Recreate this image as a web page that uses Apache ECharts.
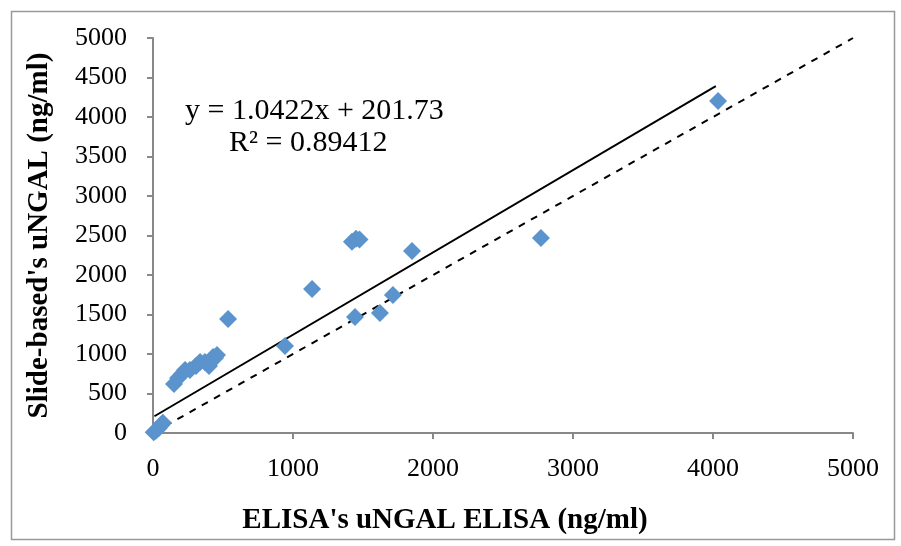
<!DOCTYPE html>
<html><head><meta charset="utf-8">
<script src="https://cdn.jsdelivr.net/npm/echarts@6/dist/echarts.min.js"></script>
<style>html,body{margin:0;padding:0;background:#fff}#c{width:901px;height:546px}</style>
</head><body><div id="c"></div>
<script>
var elisaX = [5, 20, 40, 60, 70, 150, 179, 207, 229, 264, 307, 336, 371, 400, 429, 457, 443, 536, 943, 1136, 1421, 1450, 1475, 1443, 1621, 1714, 1850, 2771, 4036];
var slideY = [10, 30, 60, 100, 130, 620, 696, 747, 797, 797, 848, 899, 899, 848, 962, 987, 949, 1443, 1101, 1823, 2420, 2460, 2450, 1468, 1519, 1747, 2304, 2468, 4203];
var slope = 1.0422, intercept = 201.73;
var trendRange = [10, 4020];
var identityRange = [0, 5000];
var xTicks = {min: 0, max: 5000, interval: 1000};
var yTicks = {min: 0, max: 5000, interval: 500};
var eqText = "y = 1.0422x + 201.73";
var r2Text = "R² = 0.89412";

var points = elisaX.map(function(x, i){ return [x, slideY[i]]; });
var trend = trendRange.map(function(x){ return [x, slope * x + intercept]; });
var ident = identityRange.map(function(x){ return [x, x]; });

var chart = echarts.init(document.getElementById('c'));
var font = '"Liberation Serif", "Times New Roman", serif';
chart.setOption({
  animation: false,
  textStyle: {fontFamily: font},
  grid: {left: 153, right: 48, top: 38, bottom: 113},
  xAxis: {
    type: 'value', min: xTicks.min, max: xTicks.max, interval: xTicks.interval,
    name: "ELISA's uNGAL ELISA (ng/ml)", nameLocation: 'middle', nameGap: 73,
    nameTextStyle: {fontFamily: font, fontSize: 29, fontWeight: 'bold', color: '#000', padding: [0, 116, 0, 0]},
    axisLine: {lineStyle: {color: '#888', width: 2}},
    axisTick: {show: true, inside: false, length: 6, lineStyle: {color: '#888', width: 2}},
    axisLabel: {fontFamily: font, fontSize: 26, color: '#000', margin: 23, formatter: function(v){ return String(v); }},
    splitLine: {show: false}
  },
  yAxis: {
    type: 'value', min: yTicks.min, max: yTicks.max, interval: yTicks.interval,
    name: "Slide-based's uNGAL (ng/ml)", nameLocation: 'middle', nameGap: 99,
    nameTextStyle: {fontFamily: font, fontSize: 29, fontWeight: 'bold', color: '#000'},
    axisLine: {show: true, lineStyle: {color: '#888', width: 2}},
    axisTick: {show: true, inside: false, length: 6, lineStyle: {color: '#888', width: 2}},
    axisLabel: {fontFamily: font, fontSize: 26, color: '#000', margin: 26, formatter: function(v){ return String(v); }},
    splitLine: {show: false}
  },
  series: [
    {type: 'line', data: ident, symbol: 'none', silent: true, z: 1,
     lineStyle: {color: '#000', width: 2, type: [7, 7]}},
    {type: 'line', data: trend, symbol: 'none', silent: true, z: 2,
     lineStyle: {color: '#000', width: 2}},
    {type: 'scatter', data: points, symbol: 'diamond', symbolSize: 18, z: 3,
     itemStyle: {color: '#5b93cd', opacity: 1}}
  ],
  graphic: [
    {type: 'rect', left: 9, top: 9, shape: {width: 883, height: 528},
     style: {fill: 'none', stroke: '#999', lineWidth: 1.5}, silent: true},
    {type: 'text', left: 185, top: 96, style: {text: eqText, font: '30px ' + font, fill: '#000'}},
    {type: 'text', left: 229, top: 128, style: {text: r2Text, font: '30px ' + font, fill: '#000'}}
  ]
});
</script></body></html>
